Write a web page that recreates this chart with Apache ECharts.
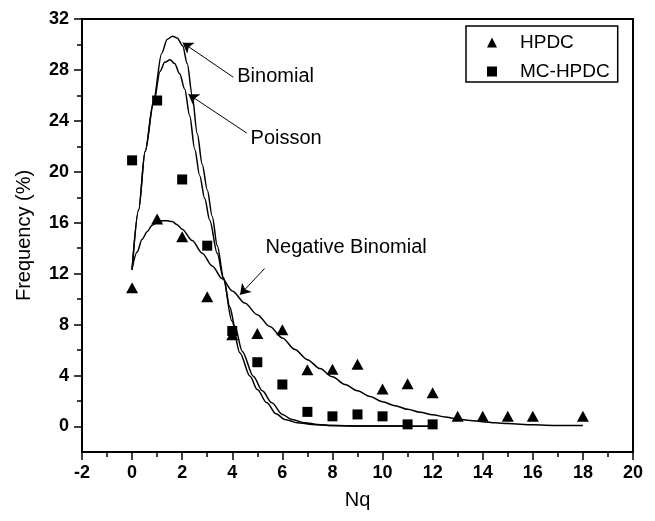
<!DOCTYPE html>
<html><head><meta charset="utf-8">
<script src="https://cdn.jsdelivr.net/npm/echarts@6/dist/echarts.min.js"></script>
<style>html,body{margin:0;padding:0;background:#fff}#c{width:655px;height:521px}</style>
</head><body><div id="c"></div>
<script>
// ---- data ----
const hpdcX = [0, 1, 2, 3, 4, 5, 6, 7, 8, 9, 10, 11, 12, 13, 14, 15, 16, 18];
const hpdcY = [10.9, 16.3, 14.9, 10.2, 7.2, 7.3, 7.6, 4.45, 4.5, 4.9, 2.95, 3.35, 2.65, 0.8, 0.8, 0.8, 0.8, 0.8];
const mcX = [0, 1, 2, 3, 4, 5, 6, 7, 8, 9, 10, 11, 12];
const mcY = [20.9, 25.6, 19.4, 14.2, 7.5, 5.05, 3.3, 1.15, 0.8, 0.95, 0.8, 0.17, 0.17];
const binomialCurve = [[0,12.3],[0.26,17.0],[0.52,21.6],[0.85,25.5],[1.18,29.3],[1.4,30.4],[1.62,30.65],[1.8,30.5],[2.02,29.9],[2.2,28.5],[2.4,26.0],[2.6,23.0],[2.8,20.6],[3.0,18.6],[3.2,16.5],[3.4,14.2],[3.65,11.7],[3.9,9.4],[4.1,7.9],[4.4,5.9],[4.84,3.95],[5.2,2.8],[5.58,1.86],[6.0,0.95],[6.38,0.55],[6.9,0.3],[7.4,0.16],[8,0.08],[9,0.05],[10,0.04],[11,0.03],[12,0.03]];
const poissonCurve = [[0,12.3],[0.26,17.0],[0.52,21.6],[0.85,25.3],[1.12,27.9],[1.3,28.6],[1.52,28.8],[1.7,28.5],[1.9,27.7],[2.1,26.5],[2.3,24.4],[2.5,21.8],[2.7,19.7],[2.9,17.9],[3.1,16.2],[3.4,13.6],[3.65,11.6],[3.98,8.3],[4.3,5.8],[4.71,3.95],[5.0,2.9],[5.38,1.86],[5.75,1.0],[6.1,0.55],[6.6,0.3],[7.2,0.16],[8,0.08],[9,0.05],[10,0.04],[11,0.03],[12,0.03]];
const negBinomialCurve = [[0,12.4],[0.2,13.7],[0.4,14.7],[0.6,15.3],[0.8,15.8],[1.0,16.05],[1.2,16.15],[1.4,16.15],[1.6,16.1],[1.8,15.85],[2.0,15.5],[2.4,14.6],[2.8,13.6],[3.2,12.6],[3.6,11.6],[4.0,10.65],[4.5,9.7],[5.0,8.78],[5.5,7.85],[6.0,6.95],[6.5,6.05],[7.0,5.25],[7.5,4.55],[8.0,3.9],[8.5,3.3],[9.0,2.8],[9.5,2.35],[10.0,1.95],[10.5,1.63],[11.0,1.35],[11.5,1.12],[12.0,0.92],[12.5,0.75],[13.0,0.6],[13.5,0.48],[14.0,0.38],[14.5,0.3],[15.0,0.23],[16.0,0.13],[17.0,0.09],[18.0,0.08]];
const xTickStep = 2;
const yTickLabels = [0, 4, 8, 12, 16, 20, 24, 28, 32];
const yMinorTicks = [2, 6, 10, 14, 18, 22, 26, 30];
const seriesNames = ['HPDC', 'MC-HPDC'];
const curveNames = ['Binomial', 'Poisson', 'Negative Binomial'];

// ---- chart ----
const F = 'Liberation Sans, Arial, sans-serif';
const chart = echarts.init(document.getElementById('c'));
const zip = (xs, ys) => xs.map((x, i) => [x, ys[i]]);
const black = '#000';

function annot(label, textAt, from, to) {
  return {
    markLine: {
      silent: true, animation: false,
      symbol: ['none', 'arrow'], symbolSize: 10,
      lineStyle: {color: black, width: 1, type: 'solid'},
      label: {show: false},
      data: [[{coord: from}, {coord: to}]]
    },
    markPoint: {
      silent: true, animation: false,
      symbol: 'circle', symbolSize: 1,
      itemStyle: {color: 'rgba(0,0,0,0)'},
      label: {show: true, position: 'right', distance: 0, formatter: '{b}', color: black, fontSize: 20, fontFamily: F},
      data: [{name: label, coord: textAt}]
    }
  };
}

function curve(name, pts, ann) {
  return Object.assign({
    name, type: 'line', data: pts, smooth: 0.3, smoothMonotone: 'x',
    showSymbol: false, symbol: 'none', silent: true, z: 3,
    lineStyle: {color: black, width: 1.5}, itemStyle: {color: black}
  }, ann);
}

const axisText = {fontSize: 18, fontWeight: 'bold', color: black, fontFamily: F};

chart.setOption({
  animation: false,
  backgroundColor: '#fff',
  grid: {left: 82, right: 22, top: 19, bottom: 69, show: true, borderColor: black, borderWidth: 2},
  legend: {
    data: [{name: seriesNames[0], icon: 'triangle'}, {name: seriesNames[1], icon: 'rect'}],
    orient: 'vertical', left: 466, top: 26, padding: [7, 8, 1, 21],
    itemWidth: 10, itemHeight: 10, itemGap: 10,
    borderColor: black, borderWidth: 1.5, selectedMode: false,
    textStyle: {fontSize: 19, color: black, fontFamily: F, padding: [0, 0, 0, 18]}
  },
  xAxis: {
    type: 'value', min: -2, max: 20, interval: xTickStep,
    name: 'Nq', nameLocation: 'middle', nameGap: 38,
    nameTextStyle: {fontSize: 20, color: black, fontFamily: F},
    axisLine: {show: true, onZero: false, lineStyle: {color: black, width: 2}},
    axisTick: {show: true, inside: false, length: 8, lineStyle: {color: black, width: 1.5}},
    minorTick: {show: true, splitNumber: 2, length: 5, lineStyle: {color: black, width: 1.5}},
    axisLabel: Object.assign({margin: 12}, axisText),
    splitLine: {show: false}, minorSplitLine: {show: false}
  },
  yAxis: [{
    type: 'value', min: -2, max: 32, interval: 2, position: 'left',
    name: 'Frequency (%)', nameLocation: 'middle', nameGap: 48, nameRotate: 90,
    nameTextStyle: {fontSize: 20, color: black, fontFamily: F},
    axisLine: {show: true, onZero: false, lineStyle: {color: black, width: 2}},
    axisTick: {show: true, inside: false, length: 8, customValues: yTickLabels, lineStyle: {color: black, width: 1.5}},
    axisLabel: Object.assign({margin: 13, customValues: yTickLabels}, axisText),
    splitLine: {show: false}
  }, {
    type: 'value', min: -2, max: 32, interval: 2, position: 'left', offset: 0,
    axisLine: {show: false, onZero: false},
    axisTick: {show: true, inside: false, length: 5, customValues: yMinorTicks, lineStyle: {color: black, width: 1.5}},
    axisLabel: {show: false}, splitLine: {show: false}
  }],
  series: [
    curve(curveNames[0], binomialCurve, annot(curveNames[0], [4.18, 27.49], [4.04, 27.43], [2.02, 30.14])),
    curve(curveNames[1], poissonCurve, annot(curveNames[1], [4.71, 22.59], [4.58, 23.04], [2.25, 26.09])),
    curve(curveNames[2], negBinomialCurve, annot(curveNames[2], [5.31, 14.04], [5.29, 12.41], [4.31, 10.35])),
    {name: seriesNames[0], type: 'scatter', symbol: 'triangle', symbolSize: [12, 11], z: 4,
     itemStyle: {color: black, opacity: 1}, data: zip(hpdcX, hpdcY)},
    {name: seriesNames[1], type: 'scatter', symbol: 'rect', symbolSize: 10, z: 4,
     itemStyle: {color: black, opacity: 1}, data: zip(mcX, mcY)}
  ]
});
</script></body></html>
